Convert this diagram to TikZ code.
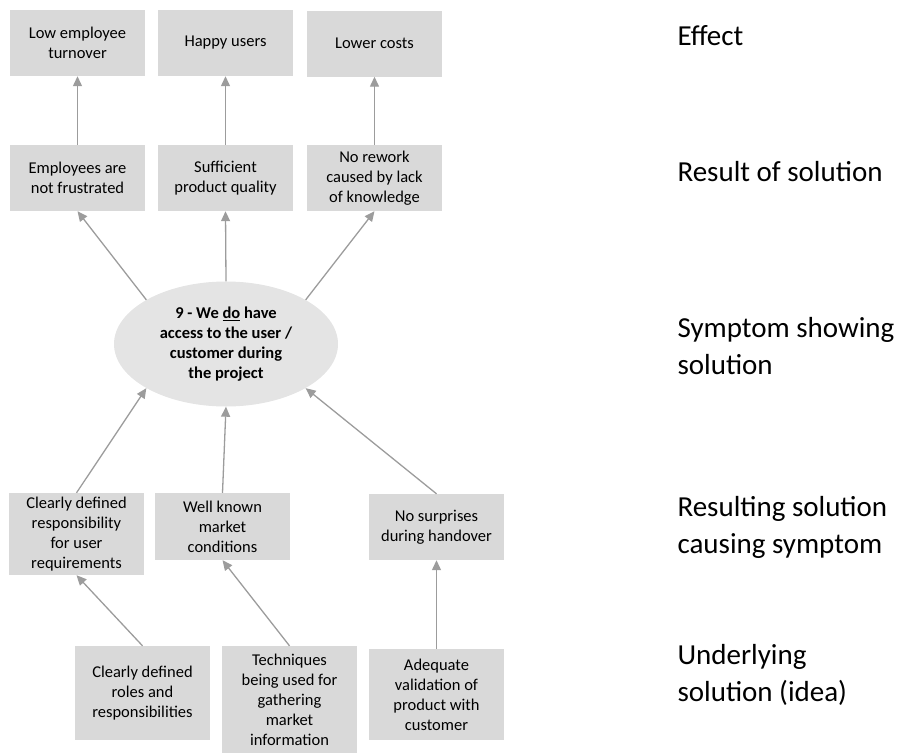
\documentclass[tikz,border=0pt]{standalone}
\usepackage{fontspec}
\setmainfont{Carlito}
\usetikzlibrary{arrows.meta,shapes.geometric}
\definecolor{boxgray}{HTML}{D9D9D9}
\definecolor{ellgray}{HTML}{E4E4E4}
\definecolor{linkgray}{HTML}{9C9C9C}
\begin{document}
\begin{tikzpicture}[x=1pt, y=-1pt,
  box/.style={shape=rectangle, fill=boxgray, minimum width=135pt, minimum height=66pt, inner sep=2pt, align=center, font=\fontsize{16.5}{20}\selectfont},
  level/.style={anchor=west, align=left, font=\fontsize{29}{37}\selectfont},
  link/.style={-{Triangle[length=10pt,width=9pt]}, line width=1.3pt, draw=linkgray}]
\useasboundingbox (0,0) rectangle (902,753);
% effects
\node[box] (effA) at (77.5,43) {Low employee\\turnover};
\node[box] (effB) at (225.5,43) {Happy users};
\node[box] (effC) at (374.5,43.5) {Lower costs};
% results of solution
\node[box] (resA) at (77.5,178) {Employees are\\not frustrated};
\node[box] (resB) at (225.5,178) {Sufficient\\product quality};
\node[box] (resC) at (374.5,178) {No rework\\caused by lack\\of knowledge};
% symptom
\node[shape=ellipse, fill=ellgray, minimum width=224pt, minimum height=125pt, inner sep=0pt, align=center, font=\bfseries\fontsize{16.5}{20}\selectfont] (symp) at (226,344) {9 - We \underline{do} have\\access to the user /\\customer during\\the project};
% resulting solutions
\node[box, minimum height=82pt] (solA) at (76.5,534) {Clearly defined\\responsibility\\for user\\requirements};
\node[box, minimum height=67pt] (solB) at (222.5,526.5) {Well known\\market\\conditions};
\node[box] (solC) at (436.5,527) {No surprises\\during handover};
% underlying solutions
\node[box, minimum height=94pt] (ideaA) at (142.5,693) {Clearly defined\\roles and\\responsibilities};
\node[box, minimum height=107pt] (ideaB) at (289.5,699.5) {Techniques\\being used for\\gathering\\market\\information};
\node[box, minimum height=91pt] (ideaC) at (436.5,694.5) {Adequate\\validation of\\product with\\customer};
% level labels
\node[level] (lvlEff) at (674,36) {Effect};
\node[level] (lvlRes) at (674,172) {Result of solution};
\node[level] (lvlSymp) at (674,346) {Symptom showing\\solution};
\node[level] (lvlSol) at (674,527) {Resulting solution\\causing symptom};
\node[level] (lvlIdea) at (674,675) {Underlying\\solution (idea)};
% links
\draw [link] (resA) -- (effA);
\draw [link] (resB) -- (effB);
\draw [link] (resC) -- (effC);
\draw [link] (symp.151) -- (resA.south);
\draw [link] (symp.north) -- (resB.south);
\draw [link] (symp.29) -- (resC.south);
\draw [link] (solA.north) -- (symp.209);
\draw [link] (solB.north) -- (symp.south);
\draw [link] (solC.north) -- (symp.331);
\draw [link] (ideaA.north) -- (solA.south);
\draw [link] (ideaB.north) -- (solB.south);
\draw [link] (ideaC.north) -- (solC.south);
\end{tikzpicture}
\end{document}
